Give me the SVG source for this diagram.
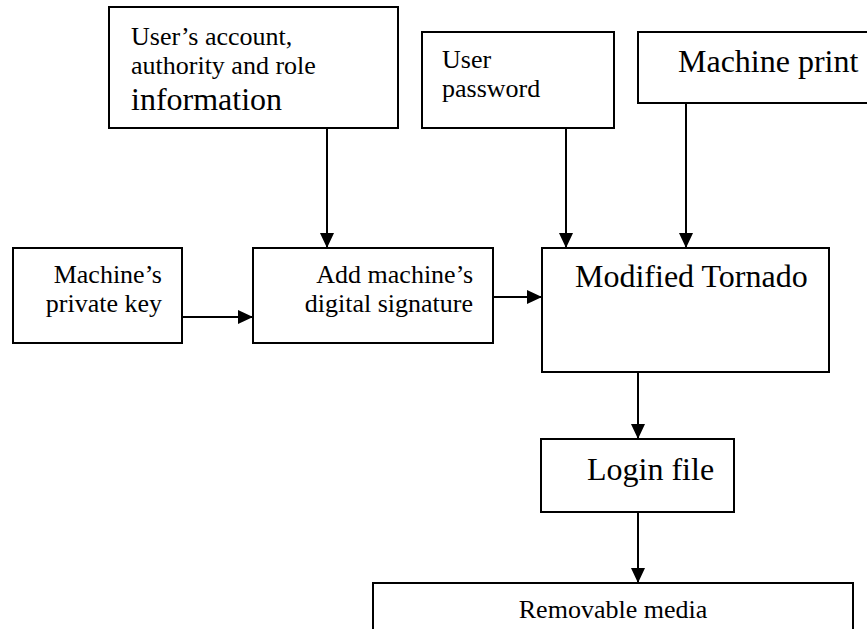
<svg xmlns="http://www.w3.org/2000/svg" width="867" height="629" viewBox="0 0 867 629">
  <defs>
    <marker id="arrow" markerUnits="userSpaceOnUse" markerWidth="15" markerHeight="14" refX="15" refY="7" orient="auto">
      <path d="M0,0 L15,7 L0,14 z" fill="#000"/>
    </marker>
    <style>
      .box { fill: #fff; stroke: #000; stroke-width: 2; }
      .edge { fill: none; stroke: #000; stroke-width: 2; marker-end: url(#arrow); }
      text { font-family: "Liberation Serif", "Times New Roman", serif; fill: #000; }
      .sm { font-size: 26px; }
      .lg { font-size: 32px; }
    </style>
  </defs>
  <rect width="867" height="629" fill="#fff"/>

  <g id="connectors">
    <line class="edge" x1="327" y1="128" x2="327" y2="248"/>
    <line class="edge" x1="566" y1="128" x2="566" y2="248"/>
    <line class="edge" x1="686" y1="103" x2="686" y2="248"/>
    <line class="edge" x1="182" y1="317" x2="253" y2="317"/>
    <line class="edge" x1="493" y1="297" x2="542" y2="297"/>
    <line class="edge" x1="638" y1="372" x2="638" y2="439"/>
    <line class="edge" x1="638" y1="512" x2="638" y2="583"/>
  </g>

  <g id="user-account">
    <rect class="box" x="109" y="7" width="289" height="121"/>
    <text class="sm" x="131" y="45">User’s account,</text>
    <text class="sm" x="131" y="74">authority and role</text>
    <text class="lg" x="131" y="110">information</text>
  </g>

  <g id="user-password">
    <rect class="box" x="422" y="32" width="192" height="96"/>
    <text class="sm" x="442" y="68">User</text>
    <text class="sm" x="442" y="97">password</text>
  </g>

  <g id="machine-print">
    <rect class="box" x="638" y="32" width="232" height="71"/>
    <text class="lg" x="678" y="72">Machine print</text>
  </g>

  <g id="private-key">
    <rect class="box" x="13" y="248" width="169" height="95"/>
    <text class="sm" x="162" y="283" text-anchor="end">Machine’s</text>
    <text class="sm" x="162" y="312" text-anchor="end">private key</text>
  </g>

  <g id="signature">
    <rect class="box" x="253" y="248" width="240" height="95"/>
    <text class="sm" x="473" y="283" text-anchor="end">Add machine’s</text>
    <text class="sm" x="473" y="312" text-anchor="end">digital signature</text>
  </g>

  <g id="tornado">
    <rect class="box" x="542" y="248" width="287" height="124"/>
    <text class="lg" x="575" y="287">Modified Tornado</text>
  </g>

  <g id="login-file">
    <rect class="box" x="541" y="439" width="193" height="73"/>
    <text class="lg" x="587" y="480">Login file</text>
  </g>

  <g id="removable-media">
    <rect class="box" x="373" y="583" width="480" height="60"/>
    <text class="sm" x="613" y="618" text-anchor="middle">Removable media</text>
  </g>
</svg>
